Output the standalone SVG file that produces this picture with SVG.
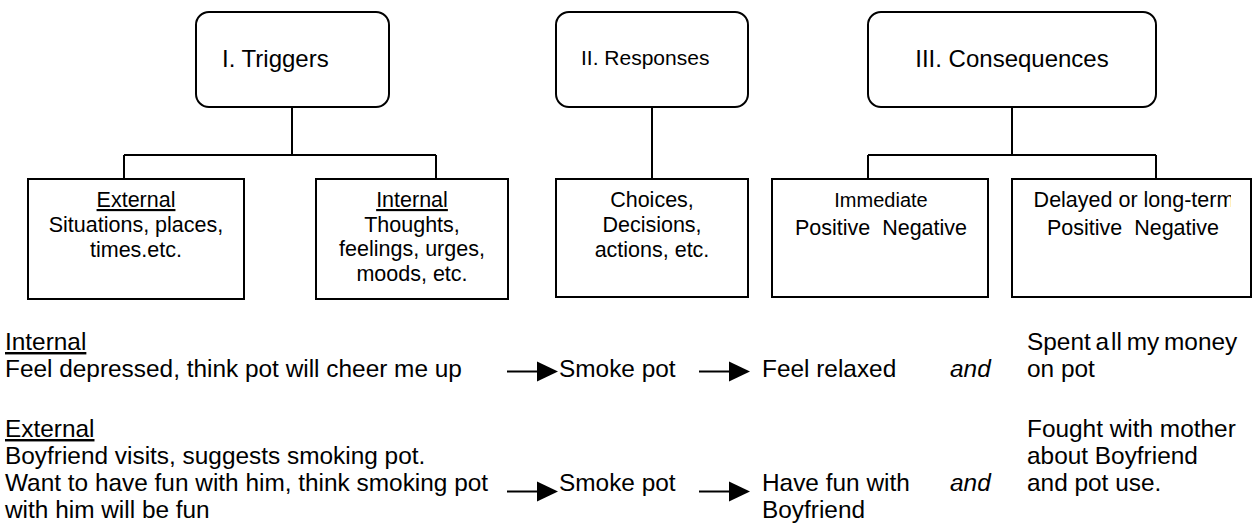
<svg xmlns="http://www.w3.org/2000/svg" width="1252" height="524" viewBox="0 0 1252 524">
<style>
text{font-family:"Liberation Sans",Arial,sans-serif;fill:#000}
.box{fill:#fff;stroke:#000;stroke-width:2}
.ln{fill:none;stroke:#000;stroke-width:2}
.t24{font-size:24px}
.t21{font-size:21.5px;text-anchor:middle}
.b{font-size:24.4px}
.u{text-decoration:underline}
.ah{fill:#000}
</style>
<defs>
<clipPath id="clipD"><rect x="1013" y="180" width="218" height="116"/></clipPath>
</defs>
<rect width="1252" height="524" fill="#fff"/>
<g id="connectors">
<path class="ln" d="M292 107V155M124 155H436M124 155V179M436 155V179"/>
<path class="ln" d="M652 107V179"/>
<path class="ln" d="M1012 107V155M868 155H1156M868 155V179M1156 155V179"/>
<g id="arrows">
<path class="ln" d="M507 371.5H538"/><polygon class="ah" points="537,361.5 558,371.5 537,381.5"/>
<path class="ln" d="M699 371.5H730"/><polygon class="ah" points="729,361.5 750,371.5 729,381.5"/>
<path class="ln" d="M507 491.5H538"/><polygon class="ah" points="537,481.5 558,491.5 537,501.5"/>
<path class="ln" d="M699 491.5H730"/><polygon class="ah" points="729,481.5 750,491.5 729,501.5"/>
</g>
</g>
<g id="triggers">
<rect class="box" x="196" y="12" width="193" height="95" rx="13"/>
<text class="t24" x="222" y="67">I. Triggers</text>
</g>
<g id="responses">
<rect class="box" x="556" y="12" width="192" height="95" rx="13"/>
<text x="581" y="65" style="font-size:21px">II. Responses</text>
</g>
<g id="consequences">
<rect class="box" x="868" y="12" width="288" height="95" rx="13"/>
<text class="t24" x="1012" y="67" text-anchor="middle">III. Consequences</text>
</g>
<g id="external">
<rect class="box" x="28" y="179" width="216" height="120"/>
<text class="t21 u" x="136" y="207">External</text>
<text class="t21" x="136" y="232">Situations, places,</text>
<text class="t21" x="136" y="257">times.etc.</text>
</g>
<g id="internal">
<rect class="box" x="316" y="179" width="192" height="120"/>
<text class="t21 u" x="412" y="207">Internal</text>
<text class="t21" x="412" y="232">Thoughts,</text>
<text class="t21" x="412" y="256">feelings, urges,</text>
<text class="t21" x="412" y="281">moods, etc.</text>
</g>
<g id="choices">
<rect class="box" x="556" y="179" width="192" height="118"/>
<text class="t21" x="652" y="207">Choices,</text>
<text class="t21" x="652" y="232">Decisions,</text>
<text class="t21" x="652" y="257">actions, etc.</text>
</g>
<g id="immediate">
<rect class="box" x="772" y="179" width="216" height="118"/>
<text class="t21" x="881" y="207" style="font-size:20px">Immediate</text>
<text class="t21" x="881" y="235" xml:space="preserve">Positive  Negative</text>
</g>
<g id="delayed">
<rect class="box" x="1012" y="179" width="239" height="118"/>
<text class="t21" x="1134" y="207" clip-path="url(#clipD)">Delayed or long-term</text>
<text class="t21" x="1133" y="235" xml:space="preserve">Positive  Negative</text>
</g>
<g id="examples">
<text class="b u" x="5" y="350">Internal</text>
<text class="b" x="5" y="377">Feel depressed, think pot will cheer me up</text>
<text class="b u" x="5" y="437">External</text>
<text class="b" x="5" y="464">Boyfriend visits, suggests smoking pot.</text>
<text class="b" x="5" y="491">Want to have fun with him, think smoking pot</text>
<text class="b" x="5" y="518">with him will be fun</text>
<text class="b" x="559" y="377">Smoke pot</text>
<text class="b" x="559" y="491">Smoke pot</text>
<text class="b" x="762" y="377">Feel relaxed</text>
<text class="b" x="762" y="491">Have fun with</text>
<text class="b" x="762" y="518">Boyfriend</text>
<text class="b" x="950" y="377" font-style="italic">and</text>
<text class="b" x="950" y="491" font-style="italic">and</text>
<text class="b" x="1027" y="350" word-spacing="-2">Spent a<tspan dx="2">ll my money</tspan></text>
<text class="b" x="1027" y="377">on pot</text>
<text class="b" x="1027" y="437">Fought with mother</text>
<text class="b" x="1027" y="464">about Boyfriend</text>
<text class="b" x="1027" y="491">and pot use.</text>
</g>
</svg>
